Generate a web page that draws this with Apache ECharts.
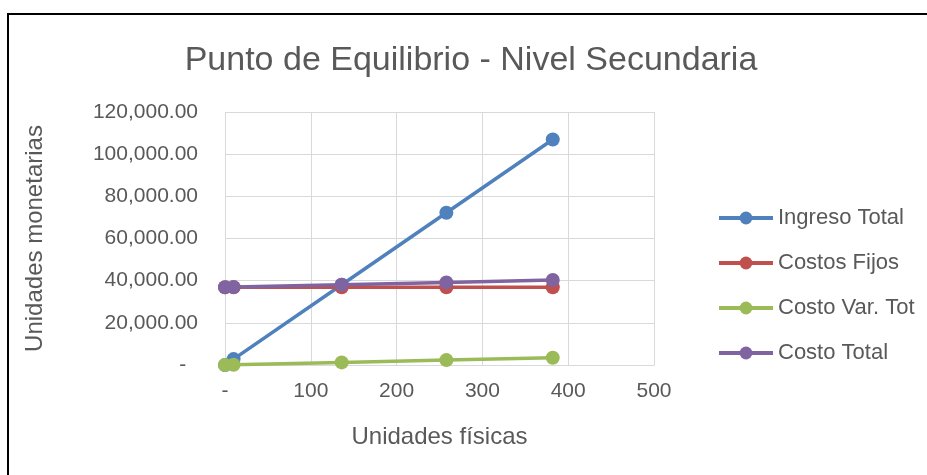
<!DOCTYPE html>
<html><head><meta charset="utf-8">
<script src="https://cdn.jsdelivr.net/npm/echarts@6/dist/echarts.min.js"></script>
<style>html,body{margin:0;padding:0;background:#fff}#c{width:927px;height:475px}</style>
</head><body><div id="c"></div>
<script>
const units = [0, 10, 136, 258, 382];
const ingresoTotal = [0, 2800, 38080, 72240, 106960];
const costosFijos = [36850, 36850, 36850, 36850, 36850];
const costoVarTot = [0, 90, 1224, 2322, 3438];
const costoTotal = [36850, 36940, 38074, 39172, 40288];
const seriesNames = ['Ingreso Total', 'Costos Fijos', 'Costo Var. Tot', 'Costo Total'];
const colors = ['#4f81bd', '#c0504d', '#9bbb59', '#8064a2'];

const F = 'Liberation Sans, Arial, sans-serif';
const mk = (name, vals, color) => ({
  name, type: 'line', data: units.map((u, i) => [u, vals[i]]),
  symbol: 'circle', symbolSize: 14, showSymbol: true,
  lineStyle: { width: 3.5, color }, itemStyle: { color }
});
const chart = echarts.init(document.getElementById('c'));
chart.setOption({
  animation: false,
  textStyle: { fontFamily: F },
  title: { text: 'Punto de Equilibrio - Nivel Secundaria', left: 466, textAlign: 'center', top: 39,
    textStyle: { fontFamily: F, fontWeight: 'normal', fontSize: 34, color: '#595959' } },
  graphic: [{ type: 'rect', shape: { x: 8, y: 14, width: 1000, height: 600 },
    style: { fill: 'none', stroke: '#000', lineWidth: 2 } }],
  grid: { left: 225, right: 273, top: 112, bottom: 110 },
  legend: { orient: 'vertical', left: 712, top: 202, itemWidth: 54, itemHeight: 16, itemGap: 23,
    lineStyle: { width: 4 },
    textStyle: { fontFamily: F, fontSize: 22, color: '#595959' },
    data: seriesNames },
  xAxis: { type: 'value', min: 0, max: 500, interval: 100,
    name: 'Unidades físicas', nameLocation: 'middle', nameGap: 60,
    nameTextStyle: { fontFamily: F, fontSize: 24, color: '#595959' },
    axisLine: { show: true, lineStyle: { color: '#d9d9d9', width: 1 } },
    axisTick: { show: false },
    axisLabel: { margin: 16, fontSize: 21, color: '#595959', fontFamily: F,
      formatter: v => v === 0 ? '-' : String(v) },
    splitLine: { show: true, lineStyle: { color: '#d9d9d9', width: 1 } } },
  yAxis: { type: 'value', min: 0, max: 120000, interval: 20000,
    name: 'Unidades monetarias', nameLocation: 'middle', nameGap: 178, nameRotate: 90,
    nameTextStyle: { fontFamily: F, fontSize: 24, color: '#595959' },
    axisLine: { show: false }, axisTick: { show: false },
    axisLabel: { margin: 27, fontSize: 21, color: '#595959', fontFamily: F,
      formatter: v => v === 0 ? '-  ' : v.toLocaleString('en-US', { minimumFractionDigits: 2, maximumFractionDigits: 2 }) },
    splitLine: { show: true, lineStyle: { color: '#d9d9d9', width: 1 } } },
  series: [
    mk(seriesNames[0], ingresoTotal, colors[0]),
    mk(seriesNames[1], costosFijos, colors[1]),
    mk(seriesNames[2], costoVarTot, colors[2]),
    mk(seriesNames[3], costoTotal, colors[3])
  ]
});
</script></body></html>
